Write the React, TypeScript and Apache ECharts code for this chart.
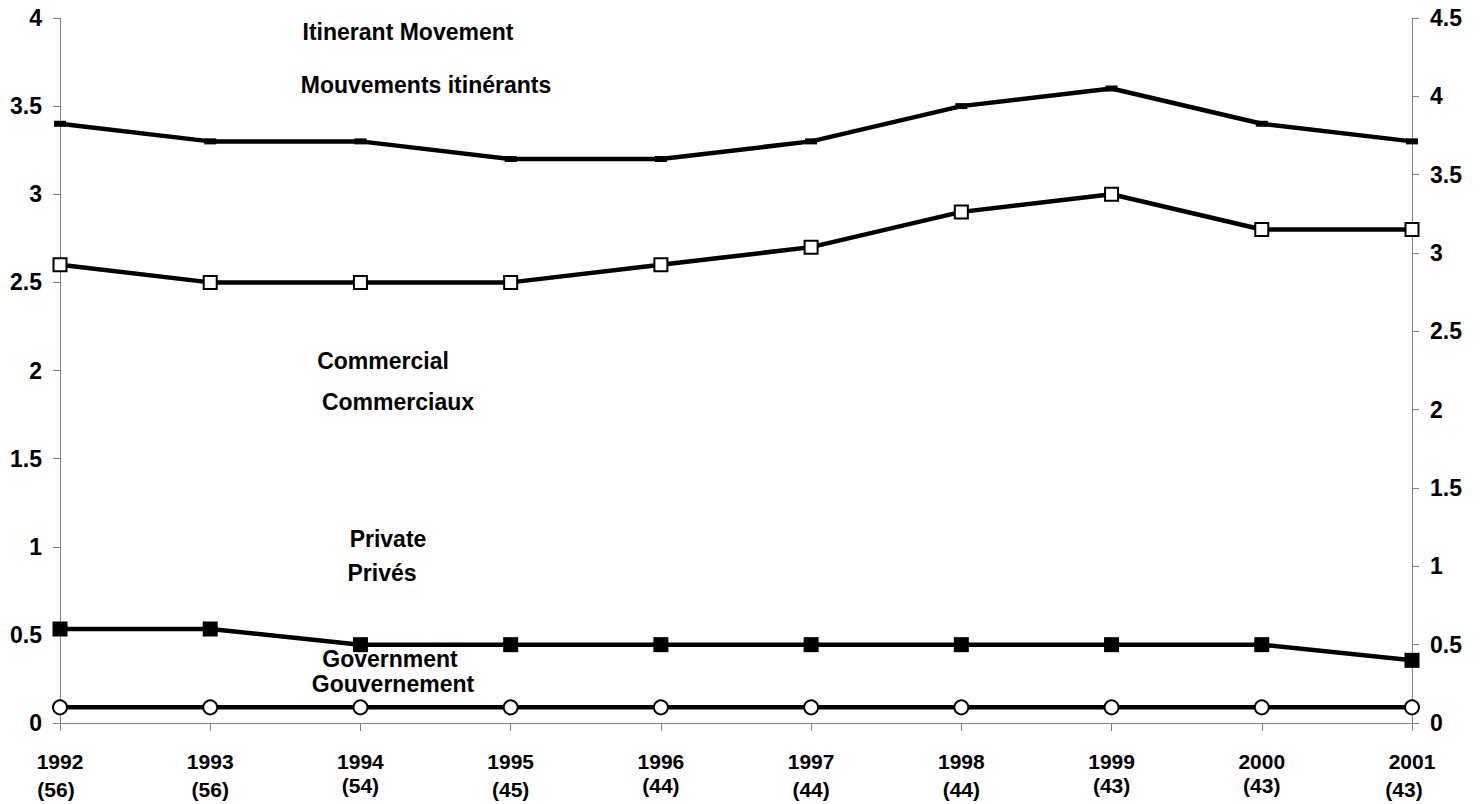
import React, { useEffect, useRef } from "react";
import * as echarts from "echarts";

const years = ["1992", "1993", "1994", "1995", "1996", "1997", "1998", "1999", "2000", "2001"];
const counts = ["56", "56", "54", "45", "44", "44", "44", "43", "43", "43"];
const countStyle = ["loL", "lo", "hi", "lo", "hi", "lo", "lo", "hi", "hi", "loR"];

const itinerant = [3.4, 3.3, 3.3, 3.2, 3.2, 3.3, 3.5, 3.6, 3.4, 3.3];
const commercial = [2.6, 2.5, 2.5, 2.5, 2.6, 2.7, 2.9, 3.0, 2.8, 2.8];
const privateSeries = [0.6, 0.6, 0.5, 0.5, 0.5, 0.5, 0.5, 0.5, 0.5, 0.4];
const government = [0.1, 0.1, 0.1, 0.1, 0.1, 0.1, 0.1, 0.1, 0.1, 0.1];

const annotations = [
  { text: "Itinerant Movement", x: 408, y: 32 },
  { text: "Mouvements itinérants", x: 426, y: 85 },
  { text: "Commercial", x: 383, y: 361 },
  { text: "Commerciaux", x: 398, y: 402 },
  { text: "Private", x: 388, y: 539 },
  { text: "Privés", x: 382, y: 573 },
  { text: "Government", x: 390, y: 659 },
  { text: "Gouvernement", x: 393, y: 684 },
];

const FONT = "Liberation Sans";

export default function App() {
  const ref = useRef<HTMLDivElement>(null);
  useEffect(() => {
    if (!ref.current) return;
    const chart = echarts.init(ref.current, null, { renderer: "svg" });
    const axisLineStyle = { color: "#808080", width: 1 };
    const base = { fontFamily: FONT, fontWeight: "bold", fontSize: 21, color: "#000" };
    chart.setOption({
      animation: false,
      backgroundColor: "#fff",
      grid: { left: 60, right: 68, top: 18, bottom: 81, containLabel: false },
      xAxis: {
        type: "category",
        data: years,
        boundaryGap: false,
        axisLine: { lineStyle: axisLineStyle },
        axisTick: { show: true, length: 8, alignWithLabel: true, lineStyle: axisLineStyle },
        axisLabel: {
          interval: 0,
          margin: 26,
          ...base,
          formatter: (v: string, i: number) => `{y|${v}}\n{${countStyle[i]}|(${counts[i]})}`,
          rich: {
            y: { ...base, lineHeight: 24 },
            hi: { ...base, lineHeight: 25 },
            lo: { ...base, lineHeight: 32 },
            loL: { ...base, lineHeight: 32, padding: [0, 8, 0, 0] },
            loR: { ...base, lineHeight: 32, padding: [0, 16, 0, 0] },
          },
        },
        splitLine: { show: false },
      },
      yAxis: [
        {
          type: "value",
          min: 0,
          max: 4,
          interval: 0.5,
          position: "left",
          axisLine: { show: true, lineStyle: axisLineStyle },
          axisTick: { show: true, length: 7, lineStyle: axisLineStyle },
          axisLabel: { ...base, fontSize: 23, margin: 18 },
          splitLine: { show: false },
        },
        {
          type: "value",
          min: 0,
          max: 4.5,
          interval: 0.5,
          position: "right",
          axisLine: { show: true, lineStyle: axisLineStyle },
          axisTick: { show: true, length: 7, lineStyle: axisLineStyle },
          axisLabel: { ...base, fontSize: 23, margin: 18 },
          splitLine: { show: false },
        },
      ],
      series: [
        {
          name: "Itinerant Movement",
          type: "line",
          yAxisIndex: 0,
          data: itinerant,
          symbol: "rect",
          symbolSize: [12, 6],
          showAllSymbol: true,
          lineStyle: { color: "#000", width: 4.5 },
          itemStyle: { color: "#000" },
        },
        {
          name: "Commercial",
          type: "line",
          yAxisIndex: 0,
          data: commercial,
          symbol: "rect",
          symbolSize: 13,
          showAllSymbol: true,
          lineStyle: { color: "#000", width: 4.5 },
          itemStyle: { color: "#fff", borderColor: "#000", borderWidth: 2 },
        },
        {
          name: "Private",
          type: "line",
          yAxisIndex: 1,
          data: privateSeries,
          symbol: "rect",
          symbolSize: 15,
          showAllSymbol: true,
          lineStyle: { color: "#000", width: 4.5 },
          itemStyle: { color: "#000" },
        },
        {
          name: "Government",
          type: "line",
          yAxisIndex: 1,
          data: government,
          symbol: "circle",
          symbolSize: 14,
          showAllSymbol: true,
          lineStyle: { color: "#000", width: 4.5 },
          itemStyle: { color: "#fff", borderColor: "#000", borderWidth: 2 },
        },
      ],
      graphic: annotations.map((a) => ({
        type: "text",
        x: a.x,
        y: a.y,
        z: 100,
        style: {
          text: a.text,
          fill: "#000",
          font: `bold 23px ${FONT}`,
          textAlign: "center",
          textVerticalAlign: "middle",
        },
      })),
    });
    return () => chart.dispose();
  }, []);
  return (
    <div
      ref={ref}
      style={{ position: "fixed", left: 0, top: 0, width: 1480, height: 804, background: "#fff" }}
    />
  );
}
